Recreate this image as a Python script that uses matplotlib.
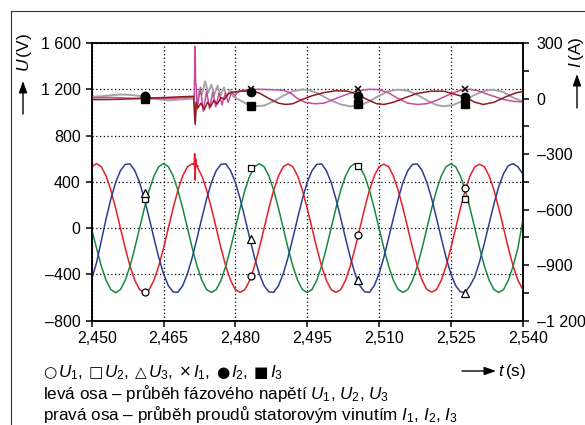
import numpy as np
import matplotlib
matplotlib.use('Agg')
import matplotlib.pyplot as plt
import matplotlib.transforms as mtransforms
from matplotlib.patches import FancyArrowPatch
from matplotlib.lines import Line2D

W, H = 585, 425

# voltage traces, sampled every 1 ms (left axis, V)
t_u = np.round(np.arange(2.450, 2.5405, 0.001), 3)

u1 = [531, 558, 531, 451, 328, 172, 0, -172, -328, -451, -531, -556, -531, -451, -328, -172, 0, 172, 328, 451,
      531, 556, 531, 451, 328, 172, 0, -172, -328, -451, -531, -556, -531, -451, -328, -172, 0, 172, 328, 451,
      531, 555, 531, 451, 328, 172, 0, -172, -328, -451, -531, -556, -531, -451, -328, -172, 0, 172, 328, 451,
      531, 552, 531, 451, 328, 172, 0, -172, -328, -451, -531, -553, -531, -451, -328, -172, 0, 172, 328, 451,
      531, 552, 531, 451, 328, 172, 0, -172, -328, -451, -528]
u2 = [-10, -172, -328, -451, -531, -558, -531, -451, -328, -172, 0, 172, 328, 451, 531, 558, 531, 451, 328, 172,
      0, -172, -328, -451, -531, -556, -531, -451, -328, -172, 0, 172, 328, 451, 531, 557, 531, 451, 328, 172,
      0, -172, -328, -451, -531, -556, -531, -451, -328, -172, 0, 172, 328, 451, 531, 558, 531, 451, 328, 172,
      0, -172, -328, -451, -531, -555, -531, -451, -328, -172, 0, 172, 328, 451, 531, 556, 531, 451, 328, 172,
      0, -172, -328, -451, -531, -556, -531, -451, -328, -172, 60]
u3 = [-440, -300, -110, 80, 253, 395, 497, 551, 555, 497, 395, 253, 87, -87, -253, -395, -497, -551, -555, -497,
      -395, -253, -87, 87, 253, 395, 497, 551, 556, 497, 395, 253, 87, -87, -253, -395, -497, -551, -555, -497,
      -395, -253, -87, 87, 253, 395, 497, 551, 555, 497, 395, 253, 87, -87, -253, -395, -497, -551, -555, -497,
      -395, -253, -87, 87, 253, 395, 497, 551, 555, 497, 395, 253, 87, -87, -253, -395, -497, -551, -555, -497,
      -420, -290, -130, 40, 210, 360, 470, 540, 558, 530, 470]

# switching spike on U1
t_spk = [2.4712, 2.4714, 2.4715, 2.4716, 2.4717, 2.4719, 2.4722]
u1_spk = [556, 560, 644, 415, 600, 545, 535]

# stator currents (right axis, A)
t_i1 = [2.450, 2.454, 2.458, 2.462, 2.466, 2.470, 2.4714, 2.4716, 2.4717, 2.4718, 2.4720, 2.4727, 2.4733,
        2.4740, 2.4746, 2.4753, 2.4759, 2.4766, 2.4772, 2.4779, 2.4785, 2.4792, 2.4798, 2.4810, 2.4825,
        2.4850, 2.4875, 2.4900, 2.4915, 2.4930, 2.4945, 2.4965, 2.4985, 2.5005, 2.5030, 2.5055, 2.5080,
        2.5100, 2.5120, 2.5140, 2.5160, 2.5180, 2.5200, 2.5220, 2.5245, 2.5270, 2.5290, 2.5310, 2.5330,
        2.5360, 2.5380, 2.5400]
i1 = [4, 6, 2, -2, 0, 6, 8, 282, 90, 75, -60, 60, -69,
      40, -55, 35, -45, 30, -35, 30, -20, 35, 20, 40, 48,
      50, 48, 45, 30, 0, -20, -28, -25, -5, 20, 42, 50,
      48, 30, 0, -25, -32, -28, -10, 20, 45, 50, 40, 20,
      -5, -15, -18]

t_i2 = [2.450, 2.454, 2.458, 2.462, 2.466, 2.469, 2.4713, 2.4716, 2.4718, 2.4722, 2.4728, 2.4735, 2.4742,
        2.4748, 2.4755, 2.4762, 2.4770, 2.4777, 2.4785, 2.4795, 2.4810, 2.4833, 2.4850, 2.4870, 2.4890,
        2.4905, 2.4920, 2.4940, 2.4960, 2.4985, 2.5010, 2.5035, 2.5055, 2.5075, 2.5095, 2.5110, 2.5130,
        2.5155, 2.5180, 2.5210, 2.5235, 2.5255, 2.5280, 2.5300, 2.5318, 2.5340, 2.5365, 2.5385, 2.5400]
i2 = [-6, -5, -2, 3, 6, 10, 12, -140, -20, -50, -25, -60, -20,
      -45, -10, -30, 5, -5, 25, 35, 40, 40, 30, 0, -25,
      -32, -28, -5, 15, 32, 42, 40, 22, -5, -28, -32, -20,
      5, 28, 40, 40, 25, 8, -20, -32, -20, 10, 30, 38]

t_i3 = [2.450, 2.452, 2.454, 2.456, 2.458, 2.460, 2.462, 2.464, 2.466, 2.468, 2.470, 2.4713, 2.4716,
        2.4719, 2.4724, 2.4730, 2.4737, 2.4743, 2.4750, 2.4756, 2.4763, 2.4769, 2.4776, 2.4782, 2.4789,
        2.4795, 2.4810, 2.4825, 2.4840, 2.4860, 2.4880, 2.4900, 2.4920, 2.4940, 2.4955, 2.4975, 2.4995,
        2.5020, 2.5040, 2.5060, 2.5080, 2.5100, 2.5120, 2.5140, 2.5160, 2.5180, 2.5200, 2.5220, 2.5235,
        2.5255, 2.5275, 2.5300, 2.5320, 2.5338, 2.5360, 2.5380, 2.5400]
i3 = [10, 12, 18, 22, 20, 14, 6, -4, -10, -6, -2, 0, -122,
      -40, 40, 20, 93, 30, 75, 20, 70, 15, 60, 12, 45,
      12, -10, -30, -42, -38, -15, 15, 40, 49, 45, 25, -5,
      -32, -42, -38, -15, 15, 40, 48, 42, 20, -10, -35, -42,
      -35, -12, 20, 42, 48, 35, 5, -15]

# marker positions
t_mk = [2.4611, 2.4833, 2.5056, 2.5280]
u1_mk = [-556, -415, -58, 343]
u2_mk = [251, 524, 535, 249]
u3_mk = [300, -92, -444, -558]
i1_mk = [5, 49, 51, 49]
i2_mk = [12, 38, 16, 11]
i3_mk = [-5, -38, -27, -27]

x_ticks = [2.450, 2.465, 2.480, 2.495, 2.510, 2.525, 2.540]
x_labels = ['2,450', '2,465', '2,480', '2,495', '2,510', '2,525', '2,540']
u_ticks = [-800, -400, 0, 400, 800, 1200, 1600]
u_labels = ['\u2013800', '\u2013400', '0', '400', '800', '1 200', '1 600']
i_ticks = [-1200, -900, -600, -300, 0, 300]
i_labels = ['\u20131 200', '\u2013900', '\u2013600', '\u2013300', '0', '300']
i_minor = [-1050, -750, -450, -150, 150]

plt.rcParams['font.family'] = ['Liberation Sans', 'DejaVu Sans']
plt.rcParams['mathtext.fontset'] = 'custom'
plt.rcParams['mathtext.rm'] = 'Liberation Sans'
plt.rcParams['mathtext.it'] = 'Liberation Sans:italic'

fig = plt.figure(figsize=(W / 100, H / 100), dpi=100)
ax = fig.add_axes([91.7 / W, 1 - 320.7 / H, 431 / W, 277.7 / H])
ax2 = ax.twinx()

red, blue, green = '#e41e2a', '#2b3d94', '#178a3c'
magenta, darkred, grey = '#cc4a9e', '#8e1b1e', '#a5a5a5'

ax.plot(t_u, u1, color=red, lw=1.1, zorder=3)
ax.plot(t_spk, u1_spk, color=red, lw=1.1, zorder=3)
ax.plot(t_u, u2, color=green, lw=1.1, zorder=3)
ax.plot(t_u, u3, color=blue, lw=1.1, zorder=3)

ax2.plot(t_i3, i3, color=grey, lw=1.4)
ax2.plot(t_i1, i1, color=magenta, lw=1.1)
ax2.plot(t_i2, i2, color=darkred, lw=1.1)

mk = dict(ls='none', mfc='white', mec='black', mew=0.9, zorder=5)
ax.plot(t_mk, u1_mk, marker='o', ms=5, **mk)
ax.plot(t_mk, u2_mk, marker='s', ms=5, **mk)
ax.plot(t_mk, u3_mk, marker='^', ms=6, **mk)
ax2.plot(t_mk, i1_mk, marker='x', ms=5, mew=1.1, color='black', ls='none')
ax2.plot(t_mk, i2_mk, marker='o', ms=6, color='black', ls='none')
ax2.plot(t_mk, i3_mk, marker='s', ms=5.5, color='black', ls='none')

ax.set_xlim(2.450, 2.540)
ax.set_ylim(-800, 1600)
ax2.set_ylim(-1200, 300)

ax.set_xticks(x_ticks)
ax.set_xticklabels(x_labels)
ax.set_yticks(u_ticks)
ax.set_yticklabels(u_labels)
ax2.set_yticks(i_ticks)
ax2.set_yticklabels(i_labels)
ax2.set_yticks(i_minor, minor=True)

ax.grid(True, ls=(0, (1, 2)), color='black', lw=0.9)
ax.set_axisbelow(True)
for a in (ax, ax2):
    for s in a.spines.values():
        s.set_linewidth(1.1)
ax.tick_params(axis='both', direction='out', length=4, width=1.1, labelsize=11.5)
ax.tick_params(axis='y', pad=4)
ax.tick_params(axis='x', pad=3.5)
ax2.tick_params(axis='y', which='both', direction='out', length=4, width=1.1, labelsize=11.5, pad=6)

off = mtransforms.ScaledTranslation(5 / 100, 0, fig.dpi_scale_trans)
for lab in ax.get_xticklabels():
    lab.set_transform(lab.get_transform() + off)


def fx(x):
    return x / W


def fy(y):
    return 1 - y / H


def arrow(x0, y0, x1, y1):
    fig.add_artist(FancyArrowPatch((fx(x0), fy(y0)), (fx(x1), fy(y1)), transform=fig.transFigure,
                                   arrowstyle='-|>,head_length=0.7,head_width=0.25', mutation_scale=10,
                                   lw=1.0, color='black', shrinkA=0, shrinkB=0))


# outer frame
fig.add_artist(Line2D([fx(11), fx(585)], [fy(11), fy(11)], transform=fig.transFigure, color='#333333', lw=0.8))
fig.add_artist(Line2D([fx(11), fx(11)], [fy(11), fy(425)], transform=fig.transFigure, color='#333333', lw=0.8))

# axis titles
fig.text(fx(24), fy(52), r'$U\,$(V)', rotation=90, ha='center', va='center', size=12.5)
arrow(23, 114, 23, 81)
fig.text(fx(576), fy(52), r'$I\,$(A)', rotation=90, ha='center', va='center', size=12.5)
arrow(577, 108, 577, 74)
arrow(462, 371, 496, 371)
fig.text(fx(498), fy(376), r'$t\,$(s)', ha='left', va='baseline', size=12.3)

# legend line: symbol then label, placed one after the other
renderer = fig.canvas.get_renderer()
sym = ['\u25cb', '\u25a1', '\u25b3', '\u00d7', '\u25cf', '\u25a0']
lbl = [r'$U_1$,', r'$U_2$,', r'$U_3$,', r'$I_1$,', r'$I_2$,', r'$I_3$']
x = 43
for s, lab in zip(sym, lbl):
    ts = fig.text(fx(x), fy(377), s, ha='left', va='baseline', size=11, family=['DejaVu Sans'])
    x = ts.get_window_extent(renderer).x1 + 1.5
    tl = fig.text(fx(x), fy(377), lab, ha='left', va='baseline', size=12.3)
    x = tl.get_window_extent(renderer).x1 + 6

fig.text(fx(43), fy(399), 'levá osa \u2013 průběh fázového napětí $U_1$, $U_2$, $U_3$',
         ha='left', va='baseline', size=12.3)
fig.text(fx(43), fy(420), 'pravá osa \u2013 průběh proudů statorovým vinutím $I_1$, $I_2$, $I_3$',
         ha='left', va='baseline', size=12.3)

fig.savefig('out.png', dpi=100)
